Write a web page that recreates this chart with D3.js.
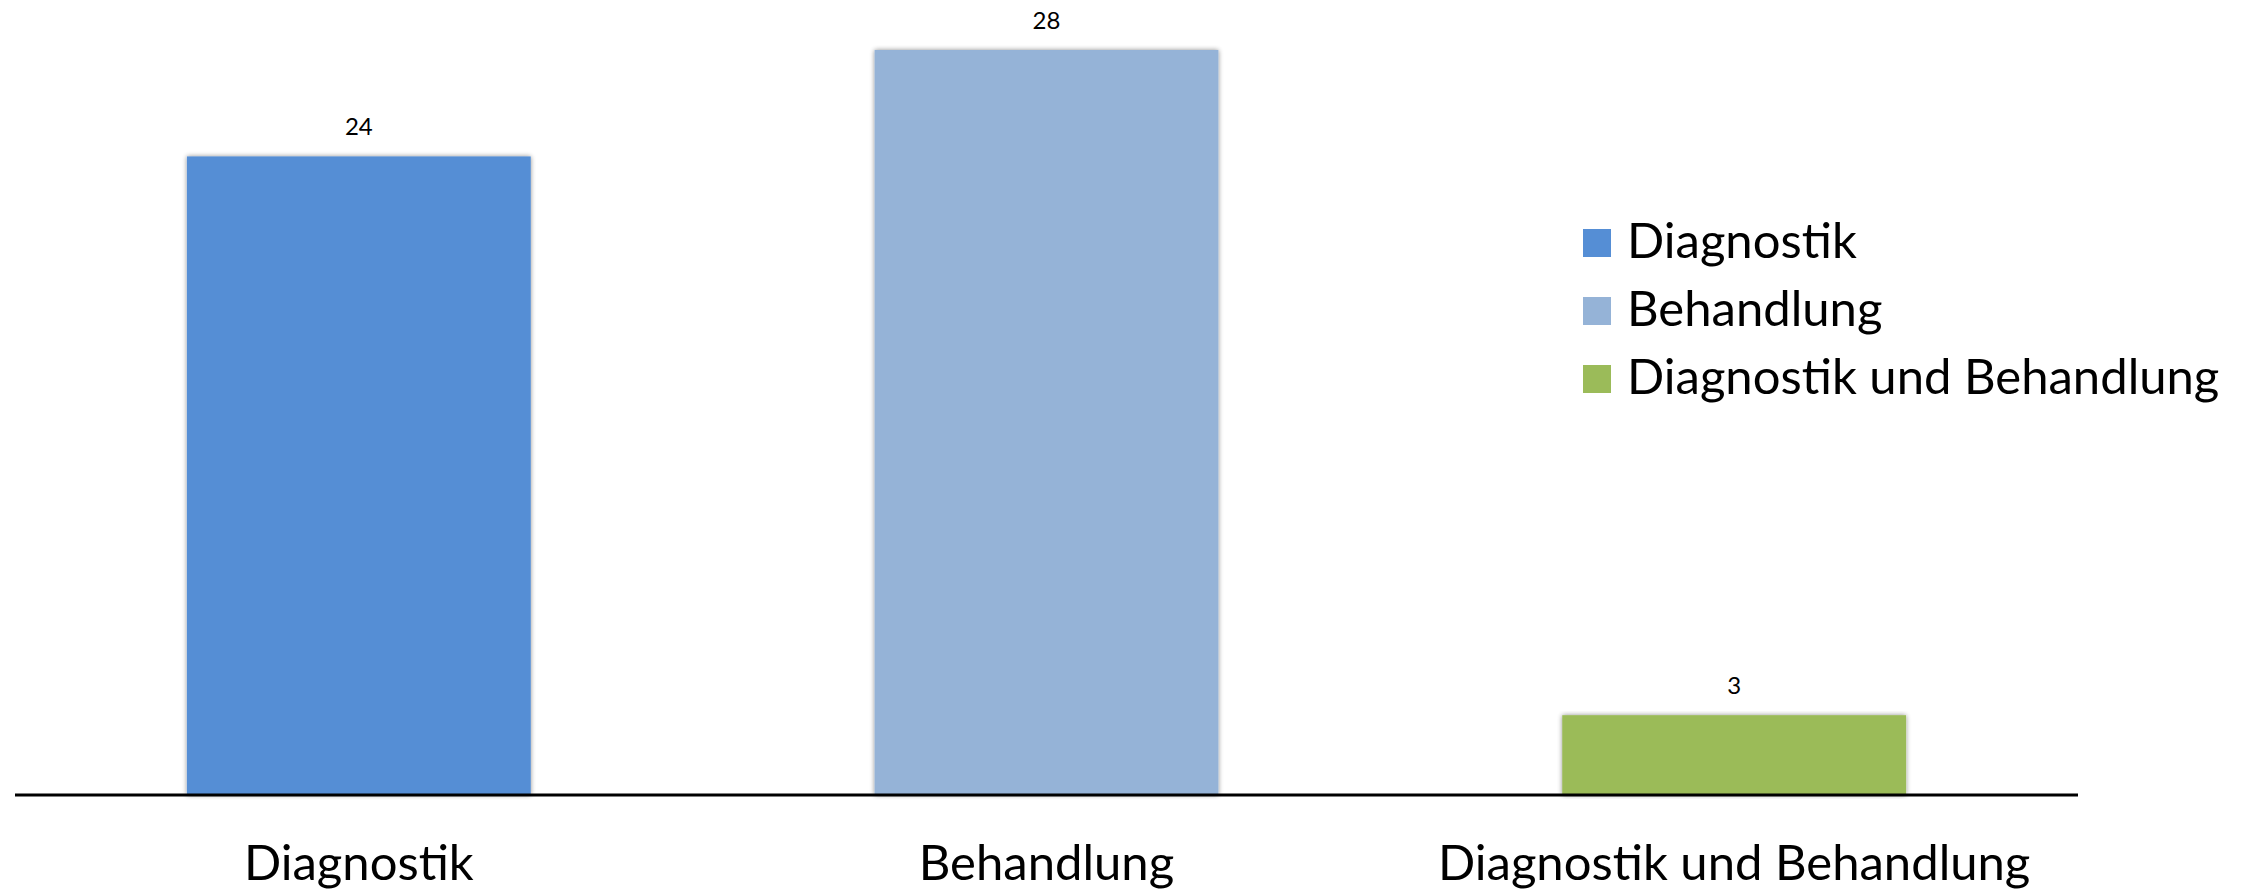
<!DOCTYPE html>
<html>
<head>
<meta charset="utf-8">
<script src="https://cdn.jsdelivr.net/npm/d3@7"></script>
<style>
  html, body { margin: 0; padding: 0; background: #ffffff; }
  svg { display: block; }
  text { font-family: Lato, "Open Sans", "Liberation Sans", sans-serif; fill: #000; }
</style>
</head>
<body>
<svg id="chart" width="2252" height="889"></svg>
<script>
// Anzahl der Fälle je Kategorie
const categories = ["Diagnostik", "Behandlung", "Diagnostik und Behandlung"];
const counts = [24, 28, 3];
const colors = ["#558ED5", "#95B3D7", "#9BBB59"];
const legendLabels = ["Diagnostik", "Behandlung", "Diagnostik und Behandlung"];

const width = 2252, height = 889;
const axisLeft = 15, axisRight = 2078, baseline = 795, plotTop = 50;

const svg = d3.select("#chart");

// soft shadow around the bars
const defs = svg.append("defs");
const f = defs.append("filter").attr("id", "barShadow")
  .attr("x", "-5%").attr("y", "-5%").attr("width", "110%").attr("height", "110%");
f.append("feGaussianBlur").attr("in", "SourceAlpha").attr("stdDeviation", 2.5).attr("result", "blur");
f.append("feComponentTransfer").attr("in", "blur").attr("result", "soft")
  .append("feFuncA").attr("type", "linear").attr("slope", 0.45);
const merge = f.append("feMerge");
merge.append("feMergeNode").attr("in", "soft");
merge.append("feMergeNode").attr("in", "SourceGraphic");

const x = d3.scaleBand()
  .domain(categories)
  .range([axisLeft, axisRight])
  .paddingInner(0.5)
  .paddingOuter(0.25);

const y = d3.scaleLinear()
  .domain([0, 28])
  .range([baseline, plotTop]);

const data = categories.map((c, i) => ({ cat: c, value: counts[i], color: colors[i] }));

// bars
svg.append("g").selectAll("rect")
  .data(data)
  .join("rect")
  .attr("x", d => x(d.cat))
  .attr("y", d => y(d.value))
  .attr("width", x.bandwidth())
  .attr("height", d => y(0) - y(d.value))
  .attr("fill", d => d.color)
  .attr("filter", "url(#barShadow)");

// value labels
svg.append("g").selectAll("text")
  .data(data)
  .join("text")
  .attr("x", d => x(d.cat) + x.bandwidth() / 2)
  .attr("y", d => y(d.value) - 21)
  .attr("text-anchor", "middle")
  .style("font-size", "24px")
  .text(d => d.value);

// category axis
const xAxis = d3.axisBottom(x).tickSize(0).tickPadding(0);
const gx = svg.append("g")
  .attr("transform", `translate(0,${baseline})`)
  .call(xAxis);
gx.select(".domain")
  .attr("d", `M${axisLeft},0H${axisRight}`)
  .attr("stroke", "#000")
  .attr("stroke-width", 3);
gx.selectAll(".tick text")
  .attr("y", 85)
  .attr("dy", null)
  .style("font-size", "49px")
  .style("font-family", "Lato, 'Open Sans', sans-serif")
  .attr("fill", "#000");

// legend
const legend = svg.append("g").attr("transform", "translate(1583,229)");
const rows = legend.selectAll("g")
  .data(legendLabels)
  .join("g")
  .attr("transform", (d, i) => `translate(0,${i * 68})`);
rows.append("rect")
  .attr("width", 28).attr("height", 28)
  .attr("fill", (d, i) => colors[i]);
rows.append("text")
  .attr("x", 44)
  .attr("y", 29)
  .style("font-size", "49px")
  .text(d => d);
</script>
</body>
</html>
